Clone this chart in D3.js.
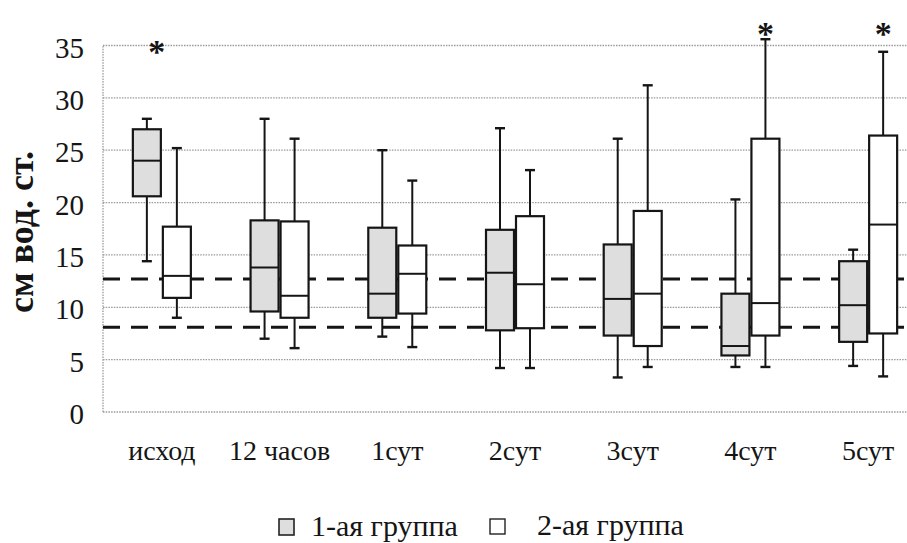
<!DOCTYPE html>
<html>
<head>
<meta charset="utf-8">
<script src="https://cdn.jsdelivr.net/npm/d3@7"></script>
<style>
  html, body { margin: 0; padding: 0; background: #fff; }
  svg { display: block; }
  text { font-family: "Liberation Serif"; }
</style>
</head>
<body>
<svg id="chart" width="907" height="543"></svg>
<script>
// Time points
const categories = ["исход", "12 часов", "1сут", "2сут", "3сут", "4сут", "5сут"];
const groups = ["1-ая группа", "2-ая группа"];

// Box statistics per time point: [lower whisker, Q1, median, Q3, upper whisker]
const group1 = [
  [14.4, 20.6, 24.0, 27.0, 28.0],
  [7.0, 9.6, 13.8, 18.3, 28.0],
  [7.2, 9.0, 11.3, 17.6, 25.0],
  [4.2, 7.8, 13.3, 17.4, 27.1],
  [3.3, 7.3, 10.8, 16.0, 26.1],
  [4.3, 5.4, 6.3, 11.3, 20.3],
  [4.4, 6.7, 10.2, 14.4, 15.5]
];
const group2 = [
  [9.0, 10.9, 13.0, 17.7, 25.2],
  [6.1, 9.0, 11.1, 18.2, 26.1],
  [6.2, 9.4, 13.2, 15.9, 22.1],
  [4.2, 8.0, 12.2, 18.7, 23.1],
  [4.3, 6.3, 11.3, 19.2, 31.2],
  [4.3, 7.3, 10.4, 26.1, 35.6],
  [3.4, 7.5, 17.9, 26.4, 34.4]
];

// Reference range (dashed lines)
const referenceLines = [8.1, 12.7];

// Significance marks: time point, group index, level on the value axis
const starCategories = ["исход", "4сут", "5сут"];
const starGroups = [0, 1, 1];
const starLevels = [35.0, 36.7, 36.7];

const yTicks = [0, 5, 10, 15, 20, 25, 30, 35];
const yLabel = "см вод. ст.";

const svg = d3.select("#chart");
const plotLeft = 103, plotRight = 927, plotTop = 45.5, plotBottom = 412;

const x = d3.scaleBand().domain(categories).range([plotLeft, plotRight]).paddingInner(0).paddingOuter(0);
const y = d3.scaleLinear().domain([0, 35]).range([plotBottom, plotTop]);

const boxW = 28, gap = 1, capW = 10;
const fills = ["#dedede", "#ffffff"];
const ink = "#151515";

// Gridlines
const grid = svg.append("g");
grid.selectAll("line.h").data(yTicks).join("line")
  .attr("x1", plotLeft).attr("x2", 907)
  .attr("y1", d => y(d)).attr("y2", d => y(d))
  .attr("stroke", "#9a9a9a").attr("stroke-width", 1.3)
  .attr("stroke-dasharray", "1.5,1.2");
grid.append("line")
  .attr("x1", plotLeft).attr("x2", plotLeft)
  .attr("y1", y(0)).attr("y2", y(35))
  .attr("stroke", "#9a9a9a").attr("stroke-width", 1.3)
  .attr("stroke-dasharray", "1.5,1.2");

// Y axis tick labels
const yAxis = d3.axisLeft(y).tickValues(yTicks).tickSize(0).tickPadding(0);
const yg = svg.append("g").attr("transform", `translate(84,0)`).call(yAxis)
  .attr("font-family", null).attr("font-size", 29);
yg.select(".domain").remove();
yg.selectAll("text").attr("fill", ink).attr("dy", "0.4em");

// Y axis title
svg.append("text")
  .attr("transform", `translate(33,232) rotate(-90)`)
  .attr("text-anchor", "middle")
  .attr("font-size", 36)
  .attr("font-weight", "bold")
  .attr("fill", ink)
  .text(yLabel);

// X axis category labels
const xAxis = d3.axisBottom(x).tickSize(0).tickPadding(0);
const xg = svg.append("g").attr("transform", `translate(0,440)`).call(xAxis)
  .attr("font-family", null).attr("font-size", 28);
xg.select(".domain").remove();
xg.selectAll("text").attr("fill", ink);

// Dashed reference lines
svg.append("g").selectAll("line").data(referenceLines).join("line")
  .attr("x1", plotLeft).attr("x2", 907)
  .attr("y1", d => y(d)).attr("y2", d => y(d))
  .attr("stroke", ink).attr("stroke-width", 3)
  .attr("stroke-dasharray", "17,11");

// Box plots
const series = [group1, group2];
series.forEach((data, gi) => {
  const g = svg.append("g");
  const boxX = c => gi === 0 ? x(c) + x.bandwidth() / 2 - gap - boxW : x(c) + x.bandwidth() / 2 + gap;
  const rows = data.map((s, i) => ({ cat: categories[i], s }));
  const items = g.selectAll("g.box").data(rows).join("g");
  // whisker stem
  items.append("line")
    .attr("x1", d => boxX(d.cat) + boxW / 2).attr("x2", d => boxX(d.cat) + boxW / 2)
    .attr("y1", d => y(d.s[0])).attr("y2", d => y(d.s[4]))
    .attr("stroke", ink).attr("stroke-width", 2);
  // whisker caps
  items.selectAll("line.cap").data(d => [d.s[0], d.s[4]].map(val => ({ cat: d.cat, val })))
    .join("line")
    .attr("x1", d => boxX(d.cat) + boxW / 2 - capW / 2).attr("x2", d => boxX(d.cat) + boxW / 2 + capW / 2)
    .attr("y1", d => y(d.val)).attr("y2", d => y(d.val))
    .attr("stroke", ink).attr("stroke-width", 2.4);
  // interquartile box
  items.append("rect")
    .attr("x", d => boxX(d.cat)).attr("width", boxW)
    .attr("y", d => y(d.s[3])).attr("height", d => y(d.s[1]) - y(d.s[3]))
    .attr("fill", fills[gi]).attr("stroke", ink).attr("stroke-width", 2.2);
  // median
  items.append("line")
    .attr("x1", d => boxX(d.cat)).attr("x2", d => boxX(d.cat) + boxW)
    .attr("y1", d => y(d.s[2])).attr("y2", d => y(d.s[2]))
    .attr("stroke", ink).attr("stroke-width", 2);
});

// Significance asterisks
svg.append("g").selectAll("text").data(starCategories.map((c, i) => ({ c, g: starGroups[i], v: starLevels[i] })))
  .join("text")
  .attr("x", d => x(d.c) + x.bandwidth() / 2 + (d.g === 0 ? -5 : gap + boxW / 2))
  .attr("y", d => y(d.v) + 17)
  .attr("text-anchor", "middle")
  .attr("font-size", 34)
  .attr("font-weight", "bold")
  .attr("fill", ink)
  .text("*");

// Legend
const legend = svg.append("g").attr("fill", ink);
legend.append("rect").attr("x", 279).attr("y", 519).attr("width", 15).attr("height", 16)
  .attr("fill", fills[0]).attr("stroke", "#222").attr("stroke-width", 1.6);
legend.append("text").attr("x", 311).attr("y", 536).attr("font-size", 30).text(groups[0]);
legend.append("rect").attr("x", 490).attr("y", 519).attr("width", 15).attr("height", 15)
  .attr("fill", fills[1]).attr("stroke", "#222").attr("stroke-width", 1.4);
legend.append("text").attr("x", 537).attr("y", 535).attr("font-size", 30).text(groups[1]);
</script>
</body>
</html>
